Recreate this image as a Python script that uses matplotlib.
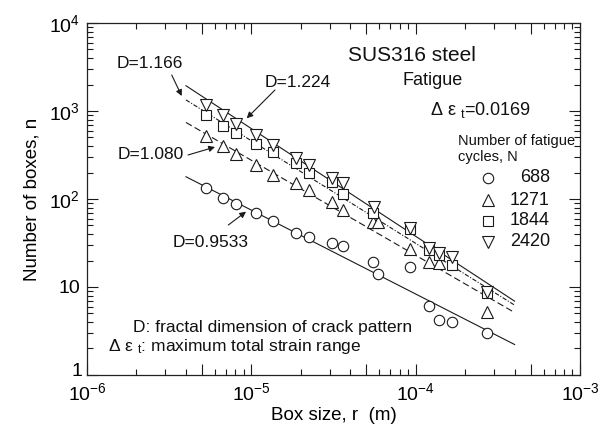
import numpy as np
import matplotlib
matplotlib.use('Agg')
import matplotlib.pyplot as plt
from matplotlib.ticker import FixedLocator, FuncFormatter, LogLocator, NullFormatter
from matplotlib.transforms import ScaledTranslation

plt.rcParams.update({
    'font.family': ['Liberation Sans', 'DejaVu Sans'],
    'mathtext.default': 'regular',
    'axes.linewidth': 0.9,
    'axes.edgecolor': '#222222',
    'text.color': '#111111',
})

# ── box-counting data (box size r in m, number of boxes n) ──
r_688 = [5.29e-6, 6.70e-6, 8.03e-6, 1.06e-5, 1.35e-5, 1.88e-5, 2.25e-5, 3.08e-5,
         3.63e-5, 5.50e-5, 5.89e-5, 9.2e-5, 1.20e-4, 1.39e-4, 1.67e-4, 2.72e-4]
n_688 = [133, 103, 88, 69, 56, 41, 37, 32, 29, 19.4, 13.9, 16.7, 6.1, 4.2, 4.0, 3.0]

r_1271 = [5.29e-6, 6.70e-6, 8.03e-6, 1.06e-5, 1.35e-5, 1.88e-5, 2.25e-5, 3.08e-5,
          3.63e-5, 5.50e-5, 5.89e-5, 9.2e-5, 1.20e-4, 1.39e-4, 2.72e-4]
n_1271 = [520, 400, 324, 246, 187, 153, 125, 92.5, 75, 55, 55, 26.8, 19.4, 18.6, 5.2]

r_1844 = [5.29e-6, 6.70e-6, 8.03e-6, 1.06e-5, 1.35e-5, 1.88e-5, 2.25e-5, 3.08e-5,
          3.63e-5, 5.50e-5, 9.2e-5, 1.20e-4, 1.39e-4, 1.67e-4, 2.72e-4]
n_1844 = [901, 676, 558, 427, 345, 255, 196, 157, 114, 68.8, 45.3, 26.3, 23.1, 17.8, 8.5]

r_2420 = [5.29e-6, 6.70e-6, 8.03e-6, 1.06e-5, 1.35e-5, 1.88e-5, 2.25e-5, 3.08e-5,
          3.63e-5, 5.60e-5, 9.2e-5, 1.20e-4, 1.39e-4, 1.67e-4, 2.72e-4]
n_2420 = [1170, 901, 712, 534, 411, 292, 243, 175, 150, 81, 46.5, 27.5, 24.2, 22.1, 8.85]

# fractal dimension D (slope) and log10 prefactor of n = A * r^-D
cycles = ['688', '1271', '1844', '2420']
D_vals = [0.9533, 1.080, 1.166, 1.224]
log_A = [-2.893, -2.960, -3.168, -3.320]
r_fit = np.array([4.0e-6, 4.0e-4])

markers = ['o', '^', 's', 'v']
msizes = [7.5, 8.5, 7.5, 8.5]
fit_styles = ['-', (0, (6, 3)), (0, (4, 1.5, 1, 1.5)), '-']

INK = '#1a1a1a'

fig = plt.figure(figsize=(6.06, 4.29), dpi=100)
ax = fig.add_axes([0.1436, 0.1259, 0.8135, 0.8205])

series = [(r_688, n_688), (r_1271, n_1271), (r_1844, n_1844), (r_2420, n_2420)]
for (r, n), m, ms in zip(series, markers, msizes):
    ax.plot(r, n, linestyle='none', marker=m, ms=ms, mfc='white',
            mec=INK, mew=0.8, zorder=3)

for D, la, ls in zip(D_vals, log_A, fit_styles):
    ax.plot(r_fit, 10 ** la * r_fit ** (-D), color=INK, lw=0.8, ls=ls, zorder=2)

ax.set_xscale('log')
ax.set_yscale('log')
ax.set_xlim(1e-6, 1e-3)
ax.set_ylim(1, 1e4)

# x: decades and 5x get long ticks, labels only on decades
x_major = [1e-6, 5e-6, 1e-5, 5e-5, 1e-4, 5e-4, 1e-3]
ax.xaxis.set_major_locator(FixedLocator(x_major))
ax.xaxis.set_minor_locator(LogLocator(base=10, subs=[2, 3, 4, 6, 7, 8, 9]))
x_lab = {-6: '$10^{-6}$', -5: '$10^{-5}$', -4: '$10^{-4}$', -3: '$10^{-3}$'}
ax.xaxis.set_major_formatter(FuncFormatter(
    lambda v, p: x_lab.get(int(round(np.log10(v))), '') if abs(np.log10(v) - round(np.log10(v))) < 1e-6 else ''))
ax.xaxis.set_minor_formatter(NullFormatter())

y_lab = {0: '1', 1: '10', 2: '$10^2$', 3: '$10^3$', 4: '$10^4$'}
ax.yaxis.set_major_locator(FixedLocator([1, 10, 100, 1000, 10000]))
ax.yaxis.set_minor_locator(LogLocator(base=10, subs=np.arange(2, 10)))
ax.yaxis.set_major_formatter(FuncFormatter(lambda v, p: y_lab[int(round(np.log10(v)))]))
ax.yaxis.set_minor_formatter(NullFormatter())

ax.tick_params(which='both', direction='in', top=True, right=True, color=INK, width=0.8)
ax.tick_params(which='major', length=8, labelsize=14, pad=5)
ax.tick_params(which='minor', length=4)

# lift the "1" label a little so it clears the 10^-6 label below it
lab1 = ax.yaxis.get_major_ticks()[0].label1
lab1.set_transform(lab1.get_transform() + ScaledTranslation(2 / 72, 4 / 72, fig.dpi_scale_trans))

ax.set_xlabel('Box size, r  (m)', fontsize=13.5, labelpad=2)
ax.set_ylabel('Number of boxes, n', fontsize=13.5, labelpad=6)

# ── headline texts ──
ax.text(0.529, 0.909, 'SUS316 steel', transform=ax.transAxes, fontsize=15, va='center')
ax.text(0.639, 0.838, 'Fatigue', transform=ax.transAxes, fontsize=13, va='center')
ax.text(0.696, 0.753, 'Δ ε $_t$=0.0169', transform=ax.transAxes, fontsize=13, va='center')

# ── legend ──
ax.text(0.7525, 0.665, 'Number of fatigue', transform=ax.transAxes, fontsize=10.5, va='center')
ax.text(0.7525, 0.619, 'cycles, N', transform=ax.transAxes, fontsize=10.5, va='center')
leg_y = [0.560, 0.497, 0.4375, 0.378]
for lab, m, ms, yy in zip(cycles, markers, msizes, leg_y):
    ax.plot([0.813], [yy], transform=ax.transAxes, marker=m, ms=ms, mfc='white',
            mec=INK, mew=0.8, ls='none', clip_on=False)
    ax.text(0.939, yy, lab, transform=ax.transAxes, fontsize=13, ha='right', va='center')

# ── D annotations with arrows ──
arrow = dict(arrowstyle='-|>', color=INK, lw=0.8, mutation_scale=9, shrinkA=0, shrinkB=0)
ax.text(0.061, 0.886, 'D=1.166', transform=ax.transAxes, fontsize=12.5, va='center')
ax.annotate('', xy=(0.1921, 0.7926), xytext=(0.1718, 0.8523),
            xycoords='axes fraction', textcoords='axes fraction', arrowprops=arrow)
ax.text(0.361, 0.832, 'D=1.224', transform=ax.transAxes, fontsize=12.5, va='center')
ax.annotate('', xy=(0.3239, 0.7293), xytext=(0.3813, 0.8097),
            xycoords='axes fraction', textcoords='axes fraction', arrowprops=arrow)
ax.text(0.063, 0.625, 'D=1.080', transform=ax.transAxes, fontsize=12.5, va='center')
ax.annotate('', xy=(0.2596, 0.6477), xytext=(0.2049, 0.625),
            xycoords='axes fraction', textcoords='axes fraction', arrowprops=arrow)
ax.text(0.174, 0.375, 'D=0.9533', transform=ax.transAxes, fontsize=12.5, va='center')
ax.annotate('', xy=(0.3225, 0.4639), xytext=(0.2866, 0.4261),
            xycoords='axes fraction', textcoords='axes fraction', arrowprops=arrow)

# ── footnotes ──
ax.text(0.093, 0.134, 'D: fractal dimension of crack pattern', transform=ax.transAxes,
        fontsize=12.5, va='center')
ax.text(0.043, 0.080, 'Δ ε $_t$: maximum total strain range', transform=ax.transAxes,
        fontsize=12.5, va='center')

fig.savefig('out.png', dpi=100, facecolor='white')
